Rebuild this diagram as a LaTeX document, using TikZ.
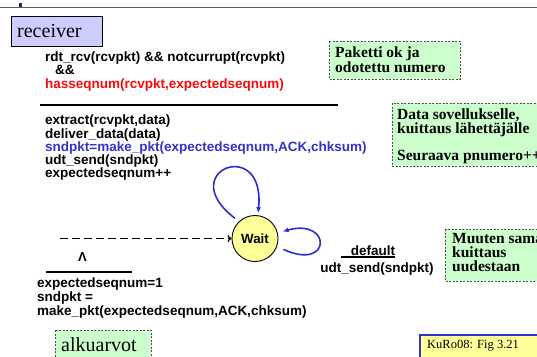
\documentclass[tikz,border=0pt]{standalone}
\usepackage{fontspec}
\setmainfont{Liberation Serif}
\setsansfont{Liberation Sans}
\usetikzlibrary{arrows.meta}

\definecolor{notegreen}{RGB}{204,255,204}
\definecolor{notegray}{RGB}{80,80,80}
\definecolor{lavender}{RGB}{204,204,255}
\definecolor{paleyellow}{RGB}{255,255,153}
\definecolor{codeblue}{RGB}{51,51,204}
\definecolor{loopblue}{RGB}{45,45,210}
\definecolor{codered}{RGB}{250,10,10}
\definecolor{navy}{RGB}{30,30,120}
\definecolor{topgray}{RGB}{90,90,90}

\begin{document}
\begin{tikzpicture}[x=1pt, y=-1pt,
  codetext/.style={font=\fontsize{13.5}{13.2}\selectfont\sffamily\bfseries,
    inner sep=0pt, align=left, anchor=north west},
  notetext/.style={font=\fontsize{15.5}{15}\selectfont\rmfamily\bfseries,
    inner sep=0pt, align=left, anchor=north west},
  notebox/.style={draw=notegray, fill=notegreen, line width=0.8pt,
    dash pattern=on 2pt off 1.5pt},
  rulebar/.style={line width=2pt, black},
  selfloop/.style={draw=loopblue, line width=1.6pt,
    -{Latex[length=6pt,width=5pt]}},
  state/.style={circle, draw=black, line width=0.9pt, fill=paleyellow,
    minimum size=46pt, inner sep=0pt,
    font=\fontsize{13.3}{14}\selectfont\sffamily\bfseries},
]
\useasboundingbox (0,0) rectangle (537,356);

% title strip
\draw[topgray, line width=1.4pt] (0,7.5) -- (537,7.5);
\fill[navy] (18.5,2.8) rectangle (22.3,6.6);

% receiver label
\draw[fill=lavender, line width=0.9pt] (11,16) rectangle (102,46);
\node[inner sep=0pt, anchor=north west, font=\fontsize{20}{22}\selectfont]
  (receiver) at (17,24.5) {receiver};

% main transition: guard
\node[codetext] (guard) at (45,51.7)
  {rdt\_rcv(rcvpkt) \&\& notcurrupt(rcvpkt)\\
   \hspace*{10pt}\&\&\\
   \textcolor{codered}{hasseqnum(rcvpkt,expectedseqnum)}};
\draw[rulebar] (40,104.5) -- (338,104.5);

% main transition: actions
\node[codetext] (actions) at (45,115)
  {extract(rcvpkt,data)\\
   deliver\_data(data)\\
   \textcolor{codeblue}{sndpkt=make\_pkt(expectedseqnum,ACK,chksum)}\\
   udt\_send(sndpkt)\\
   expectedseqnum++};

% notes
\draw[notebox] (329,41) rectangle (460,79);
\node[notetext] (note1) at (335,46.7) {Paketti ok ja\\odotettu numero};

\draw[notebox] (392,103) rectangle (560,166);
\node[notetext, font=\fontsize{15.5}{13}\selectfont\rmfamily\bfseries]
  (note2) at (397,108.5)
  {Data sovellukselle,\\kuittaus lähettäjälle\\[12.5pt]Seuraava pnumero++};

\draw[notebox] (445,229) rectangle (560,281);
\node[notetext, font=\fontsize{15.5}{14}\selectfont\rmfamily\bfseries]
  (note3) at (452,233.5) {Muuten sama\\kuittaus\\uudestaan};

% state
\node[state] (wait) at (255,238.5) {Wait};

% self loops
\draw[selfloop, shorten <=5pt, shorten >=2pt]
  (wait.133) .. controls +(-66,-50) and +(8,-80) .. (wait.83);
\draw[selfloop, shorten <=7pt, shorten >=5pt]
  (wait.-20) .. controls +(55,25) and +(54,-15) .. (wait.14);

% default transition label
\node[inner sep=0pt, anchor=base, font=\fontsize{13.5}{14}\selectfont\sffamily\bfseries]
  (deflabel) at (373,255) {default};
\draw[line width=1.5pt] (341,257) -- (395,257);
\node[inner sep=0pt, anchor=base, font=\fontsize{13.5}{14}\selectfont\sffamily\bfseries]
  (defaction) at (377,272) {udt\_send(sndpkt)};

% initial transition
\coordinate (init) at (60,238.5);
\draw[dash pattern=on 8pt off 4pt, line width=1.3pt,
  -{To[length=4pt,width=7pt]}] (init) -- (wait);
\node[inner sep=0pt, anchor=base, font=\fontsize{13}{14}\selectfont\sffamily\bfseries]
  (lambda) at (82.5,261.5) {Λ};
\draw[rulebar] (46,272) -- (132,272);
\node[codetext, font=\fontsize{13.5}{14}\selectfont\sffamily\bfseries]
  (initact) at (37,278)
  {expectedseqnum=1\\sndpkt =\\make\_pkt(expectedseqnum,ACK,chksum)};

\draw[notebox] (55,330) rectangle (151,370);
\node[inner sep=0pt, anchor=north west, font=\fontsize{20}{22}\selectfont]
  (initnote) at (61,337) {alkuarvot};

% figure reference
\draw[draw=codeblue, fill=paleyellow, line width=1.3pt] (420,335) rectangle (560,370);
\node[inner sep=0pt, anchor=north west, font=\fontsize{12.5}{14}\selectfont]
  (figref) at (427,340) {KuRo08: Fig 3.21};
\end{tikzpicture}
\end{document}
